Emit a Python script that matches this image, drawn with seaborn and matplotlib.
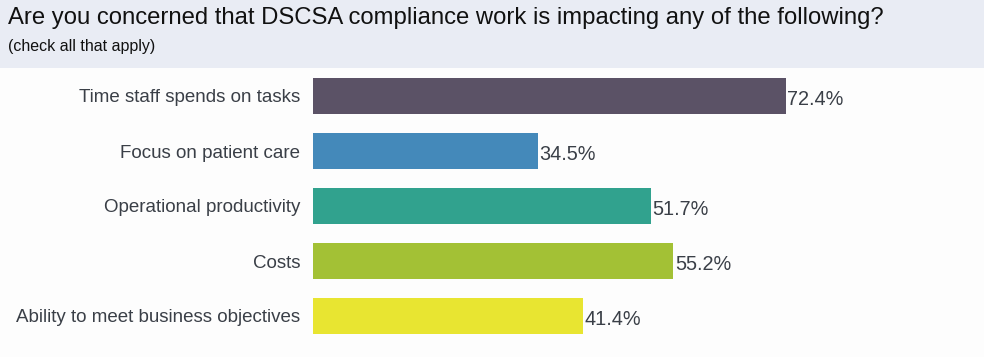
import matplotlib
matplotlib.use('Agg')
import matplotlib.pyplot as plt
import seaborn as sns
import pandas as pd

# Survey answers (check all that apply)
categories = ['Time staff spends on tasks', 'Focus on patient care', 'Operational productivity',
              'Costs', 'Ability to meet business objectives']
percent = [72.4, 34.5, 51.7, 55.2, 41.4]
bar_colors = ['#5B5266', '#4489BA', '#31A28E', '#A3C135', '#E8E531']

title = 'Are you concerned that DSCSA compliance work is impacting any of the following?'
subtitle = '(check all that apply)'

df = pd.DataFrame({'category': categories, 'percent': percent})

sns.set_theme(style='white')
plt.rcParams['font.family'] = ['Liberation Sans', 'DejaVu Sans']
text_color = '#3A3F47'

fig = plt.figure(figsize=(9.84, 3.57), dpi=100)
fig.patch.set_facecolor('#FDFDFD')

# header band
fig.patches.append(plt.Rectangle((0, 1 - 68 / 357), 1, 68 / 357, transform=fig.transFigure,
                                 facecolor='#E9ECF4', edgecolor='none', zorder=0))
fig.text(8 / 984, 1 - 18 / 357, title, fontsize=17.2, color='#111111', va='center', ha='left')
fig.text(8 / 984, 1 - 47 / 357, subtitle, fontsize=11.5, color='#111111', va='center', ha='left')

ax = fig.add_axes([313 / 984, 1 - 343.5 / 357, (966 - 313) / 984, 275 / 357])
ax.set_facecolor('#FDFDFD')
sns.barplot(data=df, x='percent', y='category', hue='category', palette=bar_colors,
            legend=False, width=0.65, saturation=1, linewidth=0, ax=ax)
ax.set_xlim(0, 100)
ax.set_ylim(4.5, -0.5)

for i, v in enumerate(percent):
    ax.text(v + 0.2, i + 0.06, f'{v}%', va='center', ha='left', fontsize=14.3, color=text_color)

ax.set_xlabel('')
ax.set_ylabel('')
ax.set_xticks([])
ax.tick_params(axis='y', length=0, pad=9)
for lab in ax.get_yticklabels():
    lab.set_fontsize(13.5)
    lab.set_color(text_color)
sns.despine(ax=ax, left=True, bottom=True)

fig.savefig('out.png', dpi=100, facecolor=fig.get_facecolor())
